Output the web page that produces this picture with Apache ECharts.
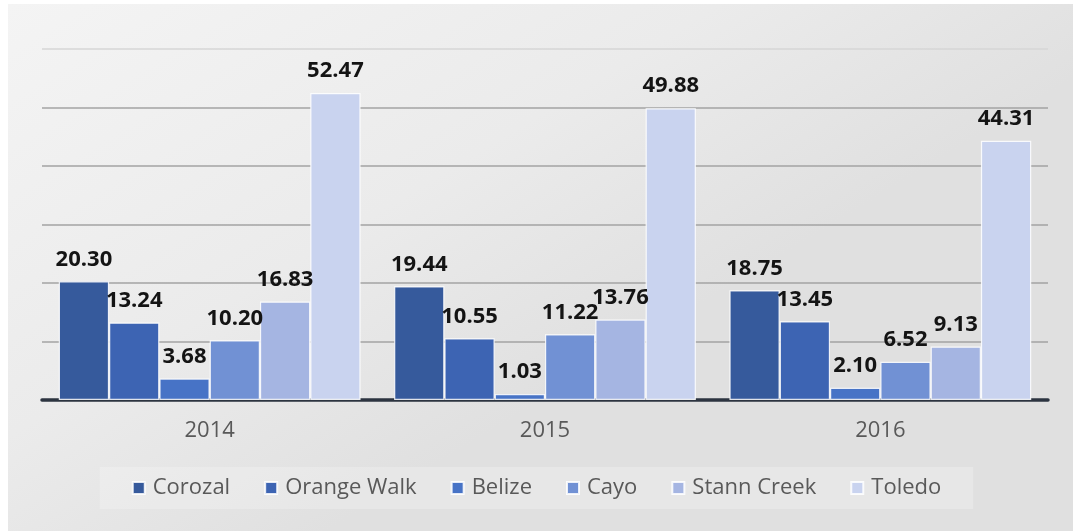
<!DOCTYPE html>
<html>
<head>
<meta charset="utf-8">
<script src="https://cdn.jsdelivr.net/npm/echarts@6/dist/echarts.min.js"></script>
<style>
  html, body { margin: 0; padding: 0; background: #ffffff; }
  #chart { width: 1073px; height: 531px; }
</style>
</head>
<body>
<div id="chart"></div>
<script>
// Years on the category axis
const years = ['2014', '2015', '2016'];

// District names (series) and their values per year
const districts = ['Corozal', 'Orange Walk', 'Belize', 'Cayo', 'Stann Creek', 'Toledo'];
const corozal    = [20.30, 19.44, 18.75];
const orangeWalk = [13.24, 10.55, 13.45];
const belize     = [3.68, 1.03, 2.10];
const cayo       = [10.20, 11.22, 6.52];
const stannCreek = [16.83, 13.76, 9.13];
const toledo     = [52.47, 49.88, 44.31];

const seriesValues = [corozal, orangeWalk, belize, cayo, stannCreek, toledo];
const colors = ['#365a9c', '#3d64b3', '#4773c6', '#7191d4', '#a5b5e2', '#c9d3ef'];

const chart = echarts.init(document.getElementById('chart'), null, { renderer: 'canvas' });

const series = districts.map((name, i) => ({
  name: name,
  type: 'bar',
  data: seriesValues[i],
  barGap: '0%',
  barCategoryGap: '10%',
  itemStyle: {
    color: colors[i],
    borderColor: 'rgba(255,255,255,0.85)',
    borderWidth: 1.2
  },
  label: {
    show: true,
    position: 'top',
    distance: 11,
    formatter: p => p.value.toFixed(2),
    fontFamily: 'Open Sans',
    fontWeight: 'bold',
    fontSize: 22,
    color: '#141414'
  }
}));

chart.setOption({
  animation: false,
  backgroundColor: 'transparent',
  graphic: [{
    type: 'rect',
    z: -10,
    silent: true,
    shape: { x: 8, y: 4, width: 1065, height: 527 },
    style: {
      fill: {
        type: 'linear', x: 0, y: 0, x2: 0.3, y2: 1,
        colorStops: [
          { offset: 0, color: '#f4f4f4' },
          { offset: 0.6, color: '#ebebeb' },
          { offset: 1, color: '#e0e0e0' }
        ]
      }
    }
  }],
  color: colors,
  grid: { left: 42, right: 25, top: 49, bottom: 131 },
  legend: {
    data: districts,
    top: 467,
    left: 'center',
    padding: [10, 32],
    backgroundColor: 'rgba(255,255,255,0.22)',
    itemWidth: 12,
    itemHeight: 12,
    itemGap: 34,
    icon: 'rect',
    textStyle: { fontFamily: 'Open Sans', fontSize: 22, color: '#595959', padding: [0, 0, 0, 3] }
  },
  xAxis: {
    type: 'category',
    data: years,
    axisLine: { lineStyle: { color: '#2c3440', width: 3.5 } },
    axisTick: { show: false },
    axisLabel: { margin: 20, fontFamily: 'Open Sans', fontSize: 22, color: '#595959' }
  },
  yAxis: {
    type: 'value',
    min: 0,
    max: 60,
    interval: 10,
    axisLine: { show: false },
    axisTick: { show: false },
    axisLabel: { show: false },
    splitLine: {
      lineStyle: {
        color: ['#a3a3a3', '#a3a3a3', '#a3a3a3', '#a3a3a3', '#a3a3a3', '#a3a3a3', '#d6d6d6'],
        width: 1.5
      }
    }
  },
  series: series
});
</script>
</body>
</html>
